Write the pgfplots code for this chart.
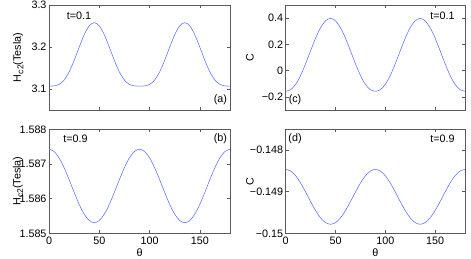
\documentclass[border=0pt]{standalone}
\usepackage{pgfplots}
\pgfplotsset{compat=1.18}
\usepackage{fontspec}
\setmainfont{Liberation Sans}
\definecolor{curve}{RGB}{90,110,255}
\definecolor{axgray}{RGB}{90,90,90}
\newcommand{\Hc}{H\kern0.3pt\raisebox{-0.45ex}{\fontsize{8.5}{9}\selectfont c2}(Tesla)}
\pgfplotsset{
  panel/.style={
    scale only axis,
    xmin=0, xmax=180,
    xtick={0,50,100,150},
    tick align=inside,
    tick pos=both,
    major tick length=3bp,
    axis line style={axgray, line width=0.5pt},
    every tick/.style={axgray, line width=0.5pt},
    font=\fontsize{10.8}{12}\selectfont,
    ylabel style={anchor=center},
    xlabel style={at={(axis description cs:0.5,-0.19)}, anchor=center},
    xticklabel style={yshift=-0.5pt},
    yticklabel style={xshift=1pt},
    clip=true,
  },
  mycurve/.style={color=curve, line width=0.55pt, smooth, tension=0.5},
}
\begin{document}
\begin{tikzpicture}
\useasboundingbox (0,0) rectangle (471bp,259bp);
% (a)
\begin{axis}[panel, at={(49bp,149bp)}, anchor=south west, width=181bp, height=105bp,
  ymin=3.05, ymax=3.3, ytick={3.1,3.2,3.3}, yticklabels={3.1,3.2,3.3},
  xticklabels={},
  ylabel={\Hc},
  ylabel style={at={(axis description cs:-0.170,0.5)}}]
\addplot[mycurve] coordinates {
(0,3.1070)(5,3.1074)(10,3.1109)(15,3.1213)(20,3.1406)(25,3.1680)(30,3.1996)(35,3.2292)(40,3.2503)(45,3.2580)
(50,3.2503)(55,3.2292)(60,3.1996)(65,3.1680)(70,3.1406)(75,3.1213)(80,3.1109)(85,3.1074)(90,3.1070)
(95,3.1074)(100,3.1109)(105,3.1213)(110,3.1406)(115,3.1680)(120,3.1996)(125,3.2292)(130,3.2503)(135,3.2580)
(140,3.2503)(145,3.2292)(150,3.1996)(155,3.1680)(160,3.1406)(165,3.1213)(170,3.1109)(175,3.1074)(180,3.1070)};
\node[font=\fontsize{10.8}{12}\selectfont] at (rel axis cs:0.166,0.895) {t=0.1};
\node[font=\fontsize{10.8}{12}\selectfont] at (rel axis cs:0.947,0.095) {(a)};
\end{axis}
% (c)
\begin{axis}[panel, at={(285.7bp,149bp)}, anchor=south west, width=179.3bp, height=105bp,
  ymin=-0.3, ymax=0.5, ytick={-0.2,0,0.2,0.4}, yticklabels={−0.2,0,0.2,0.4},
  xticklabels={},
  ylabel={C},
  ylabel style={at={(axis description cs:-0.199,0.5)}}]
\addplot[mycurve] coordinates {
(0,-0.1570)(5,-0.1452)(10,-0.1046)(15,-0.0362)(20,0.0529)(25,0.1518)(30,0.2475)(35,0.3270)(40,0.3796)(45,0.3980)
(50,0.3796)(55,0.3270)(60,0.2475)(65,0.1518)(70,0.0529)(75,-0.0362)(80,-0.1046)(85,-0.1452)(90,-0.1570)
(95,-0.1452)(100,-0.1046)(105,-0.0362)(110,0.0529)(115,0.1518)(120,0.2475)(125,0.3270)(130,0.3796)(135,0.3980)
(140,0.3796)(145,0.3270)(150,0.2475)(155,0.1518)(160,0.0529)(165,-0.0362)(170,-0.1046)(175,-0.1452)(180,-0.1570)};
\node[font=\fontsize{10.8}{12}\selectfont] at (rel axis cs:0.874,0.895) {t=0.1};
\node[font=\fontsize{10.8}{12}\selectfont] at (rel axis cs:0.052,0.095) {(c)};
\end{axis}
% (b)
\begin{axis}[panel, at={(49bp,25.7bp)}, anchor=south west, width=181bp, height=104bp,
  ymin=1.585, ymax=1.588, ytick={1.585,1.586,1.587,1.588}, yticklabels={1.585,1.586,1.587,1.588},
  xticklabels={0,50,100,150},
  xlabel={θ},
  ylabel={\Hc},
  ylabel style={at={(axis description cs:-0.171,0.5)}}]
\addplot[mycurve] coordinates {
(0,1.587425)(5,1.587361)(10,1.587177)(15,1.586895)(20,1.586549)(25,1.586181)(30,1.585835)(35,1.585553)(40,1.585369)(45,1.585305)
(50,1.585369)(55,1.585553)(60,1.585835)(65,1.586181)(70,1.586549)(75,1.586895)(80,1.587177)(85,1.587361)(90,1.587425)
(95,1.587361)(100,1.587177)(105,1.586895)(110,1.586549)(115,1.586181)(120,1.585835)(125,1.585553)(130,1.585369)(135,1.585305)
(140,1.585369)(145,1.585553)(150,1.585835)(155,1.586181)(160,1.586549)(165,1.586895)(170,1.587177)(175,1.587361)(180,1.587425)};
\node[font=\fontsize{10.8}{12}\selectfont] at (rel axis cs:0.146,0.907) {t=0.9};
\node[font=\fontsize{10.8}{12}\selectfont] at (rel axis cs:0.947,0.907) {(b)};
\end{axis}
% (d)
\begin{axis}[panel, at={(285.7bp,25.7bp)}, anchor=south west, width=179.3bp, height=104bp,
  ymin=-0.15, ymax=-0.1475, ytick={-0.15,-0.149,-0.148}, yticklabels={−0.15,−0.149,−0.148},
  xticklabels={0,50,100,150},
  xlabel={θ},
  ylabel={C},
  ylabel style={at={(axis description cs:-0.199,0.5)}}]
\addplot[mycurve] coordinates {
(0,-0.148463)(5,-0.148503)(10,-0.148617)(15,-0.148793)(20,-0.149008)(25,-0.149238)(30,-0.149453)(35,-0.149629)(40,-0.149743)(45,-0.149783)
(50,-0.149743)(55,-0.149629)(60,-0.149453)(65,-0.149238)(70,-0.149008)(75,-0.148793)(80,-0.148617)(85,-0.148503)(90,-0.148463)
(95,-0.148503)(100,-0.148617)(105,-0.148793)(110,-0.149008)(115,-0.149238)(120,-0.149453)(125,-0.149629)(130,-0.149743)(135,-0.149783)
(140,-0.149743)(145,-0.149629)(150,-0.149453)(155,-0.149238)(160,-0.149008)(165,-0.148793)(170,-0.148617)(175,-0.148503)(180,-0.148463)};
\node[font=\fontsize{10.8}{12}\selectfont] at (rel axis cs:0.052,0.907) {(d)};
\node[font=\fontsize{10.8}{12}\selectfont] at (rel axis cs:0.874,0.907) {t=0.9};
\end{axis}
\end{tikzpicture}
\end{document}
